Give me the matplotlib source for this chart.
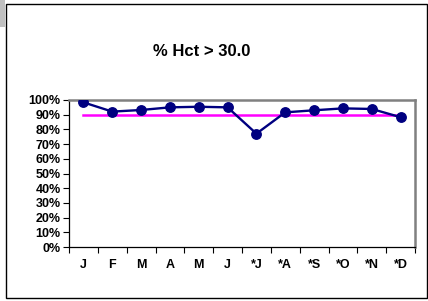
import numpy as np
import matplotlib.pyplot as plt
from matplotlib.patches import Rectangle
from matplotlib.ticker import FixedLocator, PercentFormatter

plt.rcParams["font.family"] = ["Liberation Sans", "DejaVu Sans"]
plt.rcParams["font.weight"] = "bold"

months = ["J", "F", "M", "A", "M", "J", "*J", "*A", "*S", "*O", "*N", "*D"]
hct_pct = [98.4, 92.1, 93.2, 95.0, 95.4, 95.0, 77.1, 91.6, 93.0, 94.3, 93.9, 88.3]
target_pct = [90] * 12

fig = plt.figure(figsize=(4.28, 3.01), dpi=100)
ax = fig.add_axes([69 / 428, 54 / 301, 346 / 428, 147 / 301])

x = np.arange(len(months))
ax.plot(x, target_pct, color="#FF00FF", lw=1.8, zorder=2)
ax.plot(x, hct_pct, color="#000080", lw=1.7, marker="o", ms=6.8, zorder=3)

ax.set_xlim(-0.5, len(months) - 0.5)
ax.set_ylim(0, 100)
ax.set_yticks(np.arange(0, 101, 10))
ax.yaxis.set_major_formatter(PercentFormatter(decimals=0))
ax.set_xticks(x)
ax.set_xticklabels(months)
ax.xaxis.set_minor_locator(FixedLocator(np.arange(-0.5, len(months), 1.0)))
ax.tick_params(axis="x", which="major", length=0, pad=9, labelsize=9)
ax.tick_params(axis="x", which="minor", length=4, width=0.8, direction="out")
ax.tick_params(axis="y", length=4, width=0.8, direction="out", pad=2, labelsize=9)

for side in ("top", "right"):
    ax.spines[side].set_color("#808080")
    ax.spines[side].set_linewidth(1.8)
for side in ("left", "bottom"):
    ax.spines[side].set_color("black")
    ax.spines[side].set_linewidth(0.9)

fig.text(202 / 428, 1 - 52 / 301, "% Hct > 30.0", ha="center", va="center",
         fontsize=12, fontweight="bold")

# outer chart frame
fig.patches.append(Rectangle((6 / 428, 3 / 301), 421 / 428, 294 / 301,
                             transform=fig.transFigure, fill=False,
                             edgecolor="black", lw=1))
fig.patches.append(Rectangle((0, 274 / 301), 5 / 428, 27 / 301,
                             transform=fig.transFigure, color="#c0c0c0", lw=0))

fig.savefig("out.png", dpi=100)
